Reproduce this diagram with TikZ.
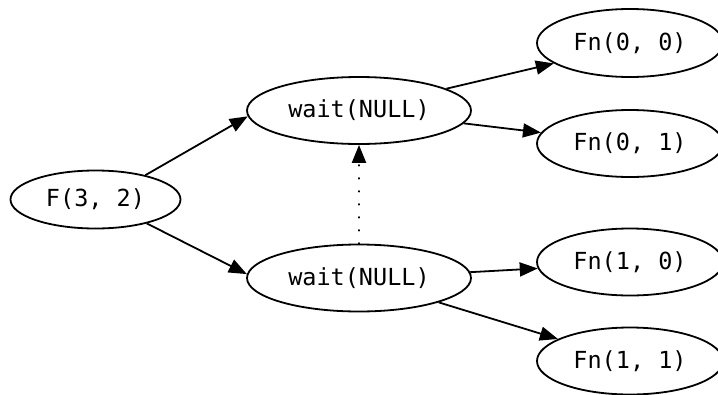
\documentclass[tikz,border=0pt]{standalone}
\usepackage{fontspec}
\setmonofont{DejaVu Sans Mono}
\usetikzlibrary{shapes.geometric,arrows.meta}
\begin{document}
\begin{tikzpicture}[x=1pt,y=-1pt,
  oval/.style={ellipse,draw,line width=1.8pt,inner sep=0pt,font=\ttfamily\fontsize{23.5}{27}\selectfont},
  bigoval/.style={oval,minimum width=224,minimum height=67},
  fnoval/.style={oval,minimum width=186,minimum height=67},
  edge/.style={line width=1.8pt,-{Triangle[length=18pt,width=14pt]}},
  waitedge/.style={line width=2.2pt,line cap=round,dash pattern=on 0.4pt off 12.6pt,-{Triangle[length=18pt,width=14pt]}}]
\clip (0,0) rectangle (718,394);
\useasboundingbox (0,0) rectangle (718,394);
\node[oval,minimum width=170,minimum height=58] (F) at (95.5,199.5) {F(3, 2)};
\node[bigoval] (w1) at (359,110.5) {wait(NULL)};
\node[bigoval] (w2) at (359,278) {wait(NULL)};
\node[fnoval,minimum height=68] (f00) at (630,43) {Fn(0, 0)};
\node[fnoval] (f01) at (630,143.5) {Fn(0, 1)};
\node[fnoval] (f10) at (630,262) {Fn(1, 0)};
\node[fnoval] (f11) at (630,361) {Fn(1, 1)};
\draw[edge] (F.26) -- (w1.183);
\draw[edge] (F.-25) -- (w2.178);
\draw[edge] (w1.14) -- (f00.195);
\draw[edge] (w1.-7) -- (f01.173);
\draw[edge] (w2.3) -- (f10.184);
\draw[edge] (w2.-17) -- (f11.163);
\draw[waitedge] (w2.north) -- (w1.south);
\end{tikzpicture}
\end{document}
